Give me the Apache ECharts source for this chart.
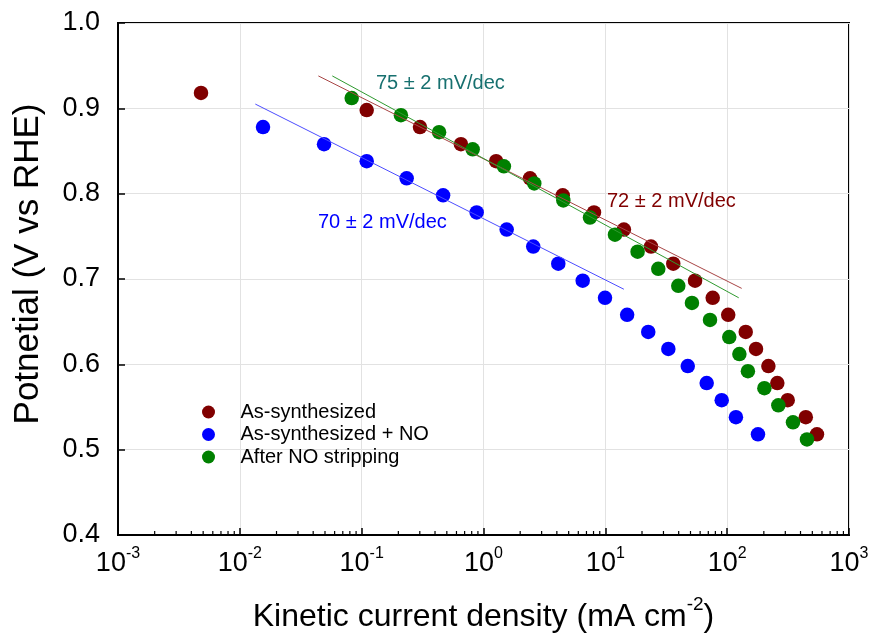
<!DOCTYPE html>
<html>
<head>
<meta charset="utf-8">
<script src="https://cdn.jsdelivr.net/npm/echarts@6/dist/echarts.min.js"></script>
<style>html,body{margin:0;padding:0;background:#fff;}#c{width:871px;height:636px;}</style>
</head>
<body>
<div id="c"></div>
<script>
// ---- data ----
const seriesNames = ['As-synthesized', 'As-synthesized + NO', 'After NO stripping'];
const redX = [0.0048, 0.110, 0.301, 0.653, 1.27, 2.41, 4.47, 8.07, 14.2, 23.7, 36.1, 54.5, 76.1, 102, 142, 172.5, 218, 258, 314, 442, 546];
const redY = [0.918, 0.898, 0.878, 0.858, 0.838, 0.818, 0.798, 0.778, 0.758, 0.738, 0.718, 0.698, 0.678, 0.658, 0.638, 0.618, 0.598, 0.578, 0.558, 0.538, 0.518];
const blueX = [0.0155, 0.0491, 0.110, 0.234, 0.466, 0.879, 1.55, 2.56, 4.11, 6.52, 9.94, 15.1, 22.5, 32.9, 47.5, 67.9, 90.2, 118, 179];
const blueY = [0.878, 0.858, 0.838, 0.818, 0.798, 0.778, 0.758, 0.738, 0.718, 0.698, 0.678, 0.658, 0.638, 0.618, 0.598, 0.578, 0.558, 0.538, 0.518];
const greenX = [0.0828, 0.210, 0.432, 0.815, 1.47, 2.61, 4.52, 7.48, 12.0, 18.4, 27.2, 39.7, 51.4, 72.3, 104, 126, 148, 202, 263, 347, 452];
const greenY = [0.912, 0.892, 0.872, 0.852, 0.832, 0.812, 0.792, 0.772, 0.752, 0.732, 0.712, 0.692, 0.672, 0.652, 0.632, 0.612, 0.592, 0.572, 0.552, 0.532, 0.512];
// Tafel fit lines (end points)
const redFitX = [0.0441, 131.6];
const redFitY = [0.938, 0.689];
const greenFitX = [0.0574, 124.4];
const greenFitY = [0.938, 0.678];
const blueFitX = [0.0134, 14.2];
const blueFitY = [0.905, 0.688];
const annotations = ['75 ± 2 mV/dec', '72 ± 2 mV/dec', '70 ± 2 mV/dec'];
const yTicks = [0.4, 0.5, 0.6, 0.7, 0.8, 0.9, 1.0];
const xTitle = 'Kinetic current density (mA cm';
const xTitleSup = '-2';
const yTitle = 'Potnetial (V vs RHE)';

// ---- build ----
const FONT = "Arial, 'Liberation Sans', sans-serif";
const zip = (xs, ys) => xs.map((x, i) => [x, ys[i]]);
const minorTicks = [];
for (let d = -3; d < 3; d++) for (let k = 2; k <= 9; k++) minorTicks.push([k * Math.pow(10, d), 0.4]);

const chart = echarts.init(document.getElementById('c'), null, {renderer: 'canvas'});
const scatterBase = {type: 'scatter', symbol: 'circle', symbolSize: 14.5, clip: false};
const lineBase = {type: 'line', showSymbol: false, symbol: 'none', silent: true, clip: false, z: 3};

chart.setOption({
  animation: false,
  backgroundColor: '#fff',
  textStyle: {fontFamily: FONT},
  grid: {left: 118, right: 22, top: 23, bottom: 101, containLabel: false, outerBoundsMode: 'none', show: true, borderColor: '#000', borderWidth: 2, backgroundColor: 'transparent'},
  legend: {
    data: seriesNames, orient: 'vertical', left: 202, top: 402, padding: 0,
    icon: 'circle', itemWidth: 54, itemHeight: 13, itemGap: 2.5,
    textStyle: {fontSize: 20, fontFamily: FONT, color: '#000', lineHeight: 20}
  },
  xAxis: {
    type: 'log', logBase: 10, min: 0.001, max: 1000,
    name: '{t|' + xTitle + '}{s|' + xTitleSup + '}{t|)}',
    nameLocation: 'middle', nameGap: 60,
    nameTextStyle: {rich: {t: {fontSize: 32, lineHeight: 44, fontFamily: FONT, color: '#000'}, s: {fontSize: 19, lineHeight: 24, verticalAlign: 'top', fontFamily: FONT, color: '#000'}}},
    axisLine: {lineStyle: {color: '#000', width: 2}},
    axisTick: {inside: true, length: 7, lineStyle: {color: '#000', width: 1.5}},
    axisLabel: {
      margin: 11,
      formatter: v => '{b|10}{s|' + Math.round(Math.log10(v)) + '}',
      rich: {b: {fontSize: 27, lineHeight: 36, fontFamily: FONT, color: '#000'}, s: {fontSize: 16, lineHeight: 22, verticalAlign: 'top', fontFamily: FONT, color: '#000'}}
    },
    splitLine: {show: true, lineStyle: {color: '#e2e2e2', width: 1}},
    minorTick: {show: false}
  },
  yAxis: {
    type: 'value', min: yTicks[0], max: yTicks[yTicks.length - 1], interval: 0.1,
    axisLine: {show: true, lineStyle: {color: '#000', width: 2}},
    axisTick: {show: true, inside: true, length: 7, lineStyle: {color: '#000', width: 1.5}},
    axisLabel: {margin: 18, fontSize: 27, fontFamily: FONT, color: '#000', formatter: v => v.toFixed(1)},
    splitLine: {show: true, lineStyle: {color: '#e2e2e2', width: 1}}
  },
  graphic: [
    {type: 'text', x: 28, y: 264, rotation: Math.PI / 2, style: {text: yTitle, fontSize: 35, fontFamily: FONT, fill: '#000', align: 'center', verticalAlign: 'middle'}},
    {type: 'text', x: 376, y: 83, style: {text: annotations[0], fontSize: 20, fontFamily: FONT, fill: '#17706f', align: 'left', verticalAlign: 'middle'}, z: 100},
    {type: 'text', x: 607, y: 201, style: {text: annotations[1], fontSize: 20, fontFamily: FONT, fill: '#800000', align: 'left', verticalAlign: 'middle'}, z: 100},
    {type: 'text', x: 318, y: 222, style: {text: annotations[2], fontSize: 20, fontFamily: FONT, fill: '#0000ff', align: 'left', verticalAlign: 'middle'}, z: 100}
  ],
  series: [
    Object.assign({}, scatterBase, {name: seriesNames[0], data: zip(redX, redY), itemStyle: {color: '#800000', opacity: 1}}),
    Object.assign({}, scatterBase, {name: seriesNames[1], data: zip(blueX, blueY), itemStyle: {color: '#0000ff', opacity: 1}}),
    Object.assign({}, scatterBase, {name: seriesNames[2], data: zip(greenX, greenY), itemStyle: {color: '#008000', opacity: 1}}),
    Object.assign({}, lineBase, {name: 'fitRed', data: zip(redFitX, redFitY), lineStyle: {color: '#a84545', width: 1}}),
    Object.assign({}, lineBase, {name: 'fitGreen', data: zip(greenFitX, greenFitY), lineStyle: {color: '#2f9a2f', width: 1}}),
    Object.assign({}, lineBase, {name: 'fitBlue', data: zip(blueFitX, blueFitY), lineStyle: {color: '#4d4dff', width: 1}}),
    {type: 'scatter', name: 'minor', data: minorTicks, symbol: 'rect', symbolSize: [1.2, 4], symbolOffset: [0, -2], itemStyle: {color: '#000', opacity: 1}, silent: true, clip: false, z: 4}
  ]
});
</script>
</body>
</html>
